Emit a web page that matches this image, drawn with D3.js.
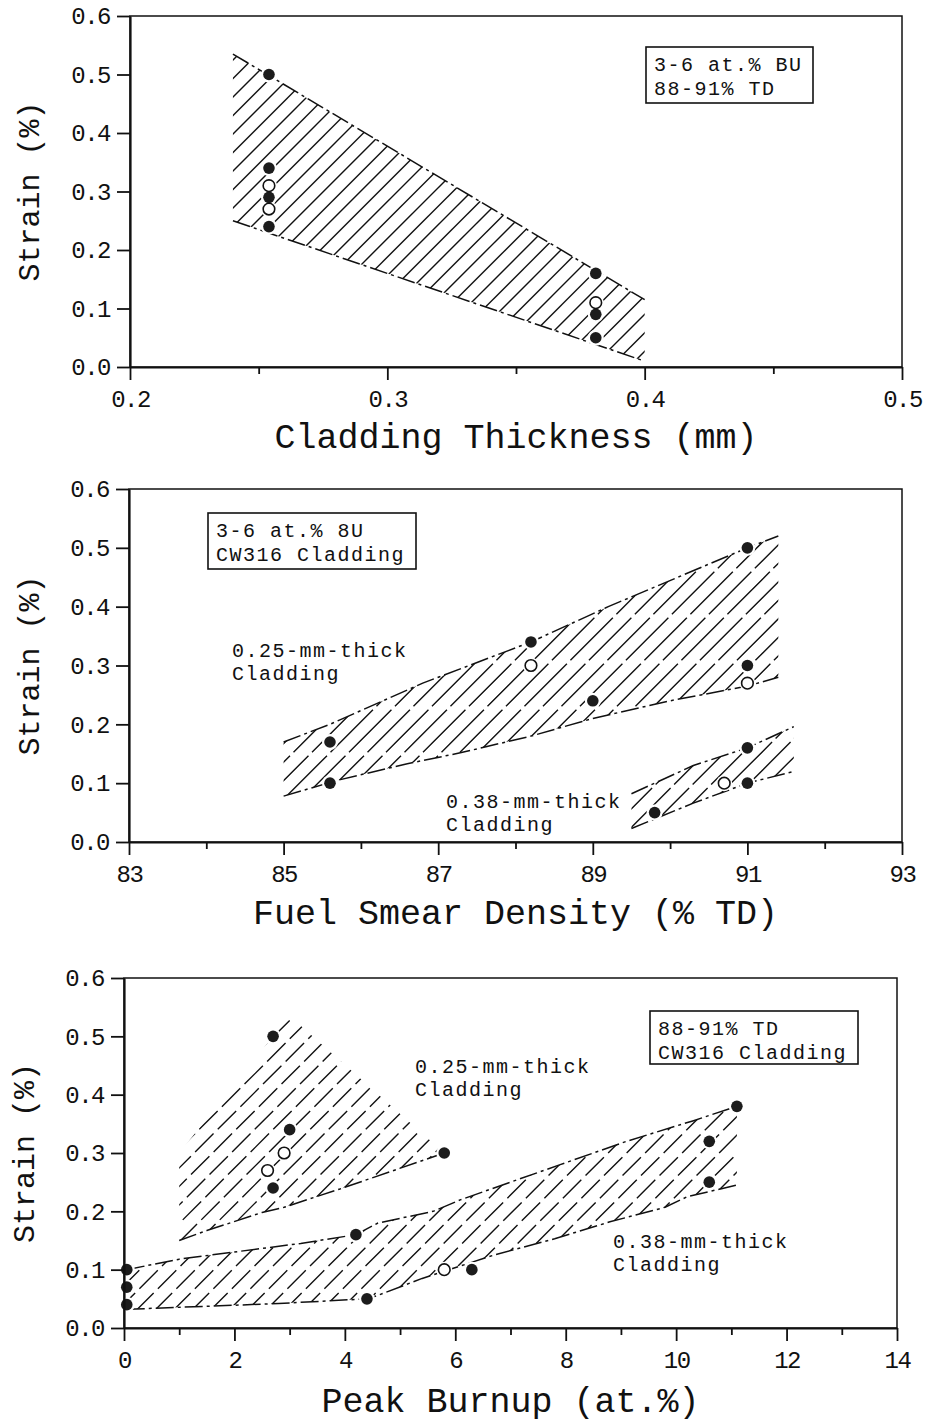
<!DOCTYPE html>
<html>
<head>
<meta charset="utf-8">
<script src="https://cdn.jsdelivr.net/npm/d3@7"></script>
<style>
  body { margin: 0; background: #fff; }
  svg text { font-family: "Liberation Mono", "DejaVu Sans Mono", monospace; fill: #111; }
  .tick text { font-size: 24px; letter-spacing: -1.5px; }
  .title { font-size: 35px; }
  .ytitle { font-size: 30px; }
  .note { font-size: 20px; letter-spacing: 1.5px; }
</style>
</head>
<body>
<svg id="chart"></svg>
<script>
// ---- data ----
const strainTicks = [0, 0.1, 0.2, 0.3, 0.4, 0.5, 0.6];

// panel 1: cladding thickness
const thickTicks = [0.2, 0.3, 0.4, 0.5];
const thickMinor = [0.25, 0.35, 0.45];
const thickFilled = [[0.254, 0.50], [0.254, 0.34], [0.254, 0.29], [0.254, 0.24],
                     [0.381, 0.16], [0.381, 0.09], [0.381, 0.05]];
const thickOpen = [[0.254, 0.31], [0.254, 0.27], [0.381, 0.11]];
const thickUpper = [[0.24, 0.535], [0.40, 0.115]];
const thickLower = [[0.24, 0.25], [0.40, 0.01]];

// panel 2: fuel smear density
const densTicks = [83, 85, 87, 89, 91, 93];
const densMinor = [84, 86, 88, 90, 92];
const dens25Filled = [[85.6, 0.17], [85.6, 0.10], [88.2, 0.34], [89.0, 0.24], [91.0, 0.50], [91.0, 0.30]];
const dens25Open = [[88.2, 0.30], [91.0, 0.27]];
const dens38Filled = [[89.8, 0.05], [91.0, 0.16], [91.0, 0.10]];
const dens38Open = [[90.7, 0.10]];
const dens25Upper = [[85.0, 0.17], [85.6, 0.20], [86.8, 0.27], [87.3, 0.295], [88.2, 0.34],
                     [89.2, 0.40], [90.1, 0.45], [91.0, 0.50], [91.4, 0.52]];
const dens25Lower = [[85.0, 0.078], [85.7, 0.105], [86.6, 0.133], [87.3, 0.152], [88.2, 0.18],
                     [89.0, 0.21], [90.0, 0.24], [91.0, 0.265], [91.4, 0.28]];
const dens38Upper = [[89.5, 0.082], [90.3, 0.13], [91.0, 0.16], [91.6, 0.196]];
const dens38Lower = [[89.5, 0.023], [90.3, 0.066], [91.0, 0.10], [91.6, 0.12]];

// panel 3: peak burnup
const burnTicks = [0, 2, 4, 6, 8, 10, 12, 14];
const burnMinor = [1, 3, 5, 7, 9, 11, 13];
const burn25Filled = [[2.7, 0.50], [3.0, 0.34], [2.7, 0.24], [5.8, 0.30]];
const burn25Open = [[2.9, 0.30], [2.6, 0.27]];
const burn38Filled = [[0.05, 0.10], [0.05, 0.07], [0.05, 0.04], [4.2, 0.16], [4.4, 0.05],
                      [6.3, 0.10], [10.6, 0.32], [10.6, 0.25], [11.1, 0.38]];
const burn38Open = [[5.8, 0.10]];
const burn25Upper = [[1.0, 0.30], [3.0, 0.535], [5.8, 0.30]];
const burn25Lower = [[1.0, 0.15], [1.5, 0.167], [2.5, 0.198], [2.9, 0.207], [3.9, 0.238], [5.8, 0.30]];
const burn38Upper = [[0.05, 0.10], [1.0, 0.118], [3.2, 0.145], [4.2, 0.16], [4.6, 0.18], [5.6, 0.20],
                     [6.1, 0.22], [7.9, 0.28], [9.1, 0.32], [10.3, 0.355], [11.1, 0.38]];
const burn38Lower = [[0.05, 0.032], [2.8, 0.042], [4.4, 0.05], [4.6, 0.056], [5.4, 0.085], [6.7, 0.125],
                     [7.8, 0.153], [8.8, 0.182], [9.8, 0.207], [10.2, 0.225], [11.1, 0.245]];

// ---- drawing ----
const width = 927, height = 1425;
const HATCH_STEP = 18.5;

const svg = d3.select("#chart")
    .attr("width", width)
    .attr("height", height)
    .attr("viewBox", [0, 0, width, height]);
const defs = svg.append("defs");

function drawPanel(p) {
    const x = d3.scaleLinear().domain(p.xDomain).range([p.left, p.right]);
    const y = d3.scaleLinear().domain([0, 0.6]).range([p.bottom, p.top]);
    const g = svg.append("g");
    const line = d3.line().x(d => x(d[0])).y(d => y(d[1]));

    // hatched bands
    p.bands.forEach((b, i) => {
        const id = `clip-${p.id}-${i}`;
        const poly = b.upper.concat(b.lower.slice().reverse()).map(d => [x(d[0]), y(d[1])]);
        defs.append("clipPath").attr("id", id)
            .append("path").attr("d", d3.line()(poly) + "Z");

        const [x0, x1] = d3.extent(poly, d => d[0]);
        const [y0, y1] = d3.extent(poly, d => d[1]);
        const cs = d3.range(x0 + y0 + (b.phase || 0), x1 + y1, HATCH_STEP);

        g.append("g")
            .attr("clip-path", `url(#${id})`)
            .selectAll("line")
            .data(cs)
            .join("line")
            .attr("x1", c => c - y1 - 2).attr("y1", y1 + 2)
            .attr("x2", c => c - y0 + 2).attr("y2", y0 - 2)
            .attr("stroke", "#111")
            .attr("stroke-width", 1.4)
            .attr("stroke-dasharray", p.hatchDash || null);

        b.outline.forEach(side => {
            g.append("path")
                .attr("d", line(b[side]))
                .attr("fill", "none")
                .attr("stroke", "#111")
                .attr("stroke-width", 1.5)
                .attr("stroke-dasharray", "18,4,3,4");
        });
    });

    // markers
    const all = p.filled.concat(p.open);
    g.append("g").selectAll("circle").data(all).join("circle")
        .attr("cx", d => x(d[0])).attr("cy", d => y(d[1]))
        .attr("r", 8).attr("fill", "#fff");
    g.append("g").selectAll("circle").data(p.filled).join("circle")
        .attr("cx", d => x(d[0])).attr("cy", d => y(d[1]))
        .attr("r", 5.8).attr("fill", "#1c1c1c");
    g.append("g").selectAll("circle").data(p.open).join("circle")
        .attr("cx", d => x(d[0])).attr("cy", d => y(d[1]))
        .attr("r", 5.8).attr("fill", "#fff")
        .attr("stroke", "#111").attr("stroke-width", 1.6);

    // frame
    g.append("rect")
        .attr("x", p.left).attr("y", p.top)
        .attr("width", p.right - p.left).attr("height", p.bottom - p.top)
        .attr("fill", "none").attr("stroke", "#111").attr("stroke-width", 1.5);

    // axes
    const xAxis = g.append("g")
        .attr("transform", `translate(0,${p.bottom})`)
        .call(d3.axisBottom(x).tickValues(p.xTicks).tickFormat(p.xFormat)
            .tickSize(13).tickPadding(10).tickSizeOuter(0));
    g.append("g")
        .attr("transform", `translate(0,${p.bottom})`)
        .call(d3.axisBottom(x).tickValues(p.xMinor).tickFormat("")
            .tickSize(7).tickSizeOuter(0))
        .call(s => s.select(".domain").remove());
    const yAxis = g.append("g")
        .attr("transform", `translate(${p.left},0)`)
        .call(d3.axisLeft(y).tickValues(strainTicks).tickFormat(d3.format(".1f"))
            .tickSize(13).tickPadding(7).tickSizeOuter(0));

    g.selectAll(".tick line").attr("stroke", "#111").attr("stroke-width", 1.8);
    [xAxis, yAxis].forEach(a => a.select(".domain").attr("stroke", "#111").attr("stroke-width", 2.2));
    g.selectAll(".tick text").attr("fill", "#111");

    // titles
    g.append("text")
        .attr("class", "title")
        .attr("x", (p.left + p.right) / 2)
        .attr("y", p.titleY)
        .attr("text-anchor", "middle")
        .text(p.xTitle);
    g.append("text")
        .attr("class", "ytitle")
        .attr("transform", `translate(${p.yTitleX},${(p.top + p.bottom) / 2}) rotate(-90)`)
        .attr("text-anchor", "middle")
        .text("Strain (%)");

    // legend box
    const lg = p.legend;
    g.append("rect")
        .attr("x", lg.x).attr("y", lg.y).attr("width", lg.w).attr("height", lg.h)
        .attr("fill", "#fff").attr("stroke", "#111").attr("stroke-width", 1.6);
    lg.lines.forEach((t, i) => {
        g.append("text").attr("class", "note")
            .attr("x", lg.x + 8).attr("y", lg.y + 24 + i * 23.5)
            .text(t);
    });

    // band labels
    (p.labels || []).forEach(l => {
        l.lines.forEach((t, i) => {
            g.append("text").attr("class", "note")
                .attr("x", l.x).attr("y", l.y + i * 23)
                .text(t);
        });
    });
}

drawPanel({
    id: "thick",
    left: 130, right: 902, top: 16, bottom: 367,
    xDomain: [0.2, 0.5], xTicks: thickTicks, xMinor: thickMinor, xFormat: d3.format(".1f"),
    xTitle: "Cladding Thickness (mm)", titleY: 448, yTitleX: 39,
    bands: [{upper: thickUpper, lower: thickLower, outline: ["upper", "lower"], phase: 6}],
    filled: thickFilled, open: thickOpen,
    legend: {x: 646, y: 47, w: 167, h: 56, lines: ["3-6 at.% BU", "88-91% TD"]}
});

drawPanel({
    id: "dens",
    left: 129, right: 902, top: 489, bottom: 842,
    xDomain: [83, 93], xTicks: densTicks, xMinor: densMinor, xFormat: d3.format("d"),
    xTitle: "Fuel Smear Density (% TD)", titleY: 924, yTitleX: 39,
    hatchDash: "60,5",
    bands: [
        {upper: dens25Upper, lower: dens25Lower, outline: ["upper", "lower"], phase: 4},
        {upper: dens38Upper, lower: dens38Lower, outline: ["upper", "lower"], phase: 8}
    ],
    filled: dens25Filled.concat(dens38Filled), open: dens25Open.concat(dens38Open),
    legend: {x: 208, y: 513, w: 208, h: 56, lines: ["3-6 at.% 8U", "CW316 Cladding"]},
    labels: [
        {x: 232, y: 657, lines: ["0.25-mm-thick", "Cladding"]},
        {x: 446, y: 808, lines: ["0.38-mm-thick", "Cladding"]}
    ]
});

drawPanel({
    id: "burn",
    left: 124, right: 897, top: 978, bottom: 1328,
    xDomain: [0, 14], xTicks: burnTicks, xMinor: burnMinor, xFormat: d3.format("d"),
    xTitle: "Peak Burnup (at.%)", titleY: 1412, yTitleX: 34,
    hatchDash: "26,6",
    bands: [
        {upper: burn25Upper, lower: burn25Lower, outline: ["lower"], phase: 4},
        {upper: burn38Upper, lower: burn38Lower, outline: ["upper", "lower"], phase: 10}
    ],
    filled: burn25Filled.concat(burn38Filled), open: burn25Open.concat(burn38Open),
    legend: {x: 650, y: 1011, w: 208, h: 53, lines: ["88-91% TD", "CW316 Cladding"]},
    labels: [
        {x: 415, y: 1073, lines: ["0.25-mm-thick", "Cladding"]},
        {x: 613, y: 1248, lines: ["0.38-mm-thick", "Cladding"]}
    ]
});
</script>
</body>
</html>
